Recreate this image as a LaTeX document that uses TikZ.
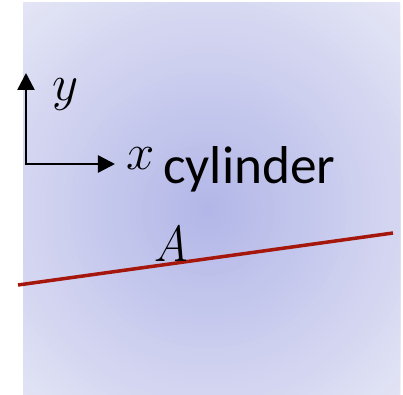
\documentclass[tikz,border=0pt]{standalone}
\usepackage{fontspec}
\setsansfont{Carlito}
\usepackage{tikz}
\usetikzlibrary{arrows.meta,positioning,calc}

\definecolor{cylin}{RGB}{178,182,231}
\definecolor{cylout}{RGB}{230,231,246}
\definecolor{cutred}{RGB}{165,22,12}

\begin{document}
\begin{tikzpicture}[x=1bp,y=1bp,>={Triangle[length=17bp,width=17bp]},
  axis/.style={line width=2.5bp,->},
  mathlbl/.style={inner sep=0pt,font=\Huge,scale=2.05},
  cut/.style={line width=3.5bp,cutred}]
\useasboundingbox (0,0) rectangle (403,395);
% cylinder section, glow drawn as rings
\coordinate (glow) at (208,185);
\begin{scope}
  \clip (23,0) rectangle (400,392);
  \fill[cylout] (23,0) rectangle (400,392);
  \foreach \i in {48,...,1} {
    \pgfmathtruncatemacro\p{100*\i/48}
    \fill[cylout!\p!cylin] (glow) circle[radius=\i*6];
  }
\end{scope}
\node[anchor=base west,inner sep=0pt,font=\sffamily\fontsize{53.5}{60}\selectfont] (cyl) at (163,212) {cylinder};
% axes
\coordinate (o) at (26,231);
\coordinate (ytip) at (26,322);
\coordinate (xtip) at (115,231);
\draw[axis] ([yshift=-1.25bp]o) -- (ytip);
\draw[axis] ([xshift=-1.25bp]o) -- (xtip);
\node[mathlbl] (ylbl) at (66,300) {$y$};
\node[mathlbl] (xlbl) at (141,236) {$x$};
% cut line
\coordinate (cutl) at (18,110);
\coordinate (cutr) at (393,162);
\draw[cut] (cutl) -- (cutr);
\node[mathlbl,anchor=base,xscale=0.9] (alb) at (171,133) {$A$};
\end{tikzpicture}
\end{document}
